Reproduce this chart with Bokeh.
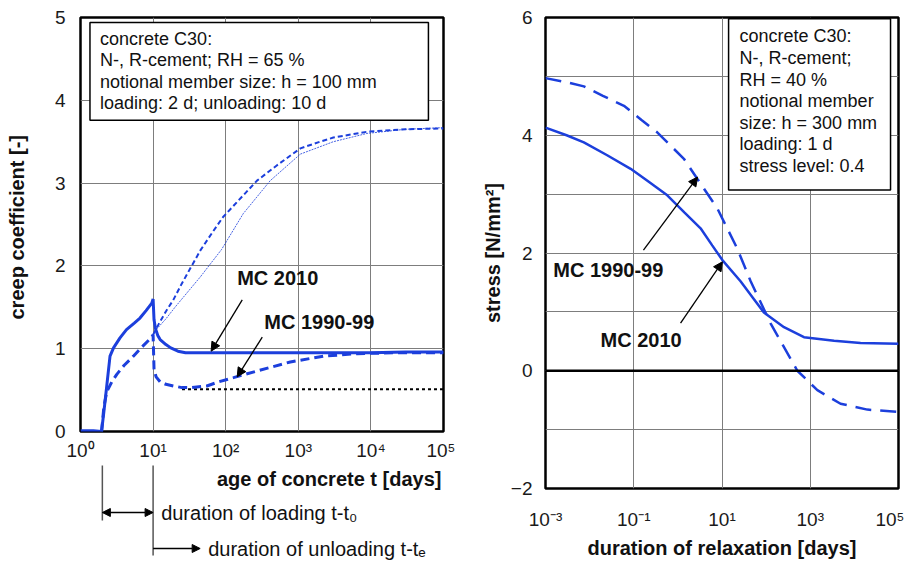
from bokeh.plotting import figure
from bokeh.layouts import row, column
from bokeh.models import Range1d, FixedTicker, Label, Arrow, NormalHead, BoxAnnotation, Span
from bokeh.embed import file_html
from bokeh.resources import INLINE

FONT = "Liberation Sans"
BLUE = "#1c3fdc"
GRID = "#7d7d7d"

# ---------------- left chart: creep coefficient ----------------
t_mc2010 = [1, 1.5, 1.95, 2.1, 2.3, 2.55, 2.85, 3.5, 4.3, 5.5, 6.6, 8, 9.6, 10, 10.3, 10.8,
            11.6, 12.5, 15, 17.5, 22, 28, 50, 100, 1000, 10000, 30000, 100000]
phi_mc2010 = [0.01, 0.01, 0.0, 0.24, 0.55, 0.91, 1.01, 1.13, 1.23, 1.31, 1.37, 1.46, 1.55, 1.6,
              1.35, 1.24, 1.16, 1.11, 1.05, 1.01, 0.97, 0.95, 0.95, 0.95, 0.95, 0.95, 0.96, 0.96]

t_mc1990 = [1.95, 2.1, 2.3, 2.7, 3.16, 4, 5.35, 7, 9.6, 10, 10.3, 11, 12.5, 15, 19, 25, 33,
            55, 80, 128, 269, 776, 2213, 6450, 20000, 100000]
phi_mc1990 = [0.0, 0.3, 0.48, 0.6, 0.69, 0.8, 0.91, 1.02, 1.14, 1.17, 0.75, 0.66, 0.6, 0.57,
              0.55, 0.53, 0.53, 0.55, 0.6, 0.65, 0.73, 0.84, 0.91, 0.94, 0.95, 0.95]

t_mc1990_sustained = [10, 12, 15, 19, 25, 33, 45, 65, 92, 150, 270, 500, 1070, 2000, 3040,
                      8850, 30000, 100000]
phi_mc1990_sustained = [1.17, 1.3, 1.45, 1.59, 1.79, 1.98, 2.19, 2.4, 2.59, 2.79, 3.03, 3.21,
                        3.42, 3.5, 3.55, 3.62, 3.65, 3.66]

t_mc2010_sustained = [10, 11, 15, 20, 29, 45, 88, 174, 411, 1066, 3040, 8850, 30000, 100000]
phi_mc2010_sustained = [1.17, 1.23, 1.36, 1.5, 1.67, 1.87, 2.2, 2.63, 3.03, 3.35, 3.5, 3.6,
                        3.65, 3.67]

t_residual = [25, 100000]
phi_residual = [0.51, 0.51]

left_xticks = [1, 10, 100, 1000, 10000, 100000]
left_xlabels = ["10⁰", "10¹", "10²", "10³", "10⁴", "10⁵"]
left_yticks = [0, 1, 2, 3, 4, 5]

t_loading = 2
t_unloading = 10

# ---------------- right chart: relaxation ----------------
t_rel_mc2010 = [0.001, 0.003, 0.0074, 0.025, 0.085, 0.2, 0.575, 1.4, 3.27, 6, 10.2, 26.3, 50,
                89, 254, 720, 3470, 13800, 100000]
s_mc2010 = [4.13, 4.0, 3.88, 3.66, 3.43, 3.23, 2.98, 2.69, 2.42, 2.13, 1.88, 1.52, 1.24, 0.99,
            0.74, 0.57, 0.51, 0.47, 0.46]

t_rel_mc1990 = [0.001, 0.003, 0.0074, 0.02, 0.06, 0.15, 0.34, 1.37, 2.75, 7.8, 22, 44.6, 127,
                254, 510, 1450, 4860, 19700, 100000]
s_mc1990 = [4.97, 4.9, 4.83, 4.67, 4.5, 4.26, 4.05, 3.6, 3.26, 2.76, 2.08, 1.52, 0.8, 0.4, 0.0,
            -0.33, -0.56, -0.66, -0.7]

right_xticks = [0.001, 0.1, 10, 1000, 100000]
right_xlabels = ["10⁻³", "10⁻¹", "10¹", "10³", "10⁵"]
right_yticks = [-2, 0, 2, 4, 6]
right_ygrid = [-2, -1, 0, 1, 2, 3, 4, 5, 6]


def style_axes(p, xticks, xlabels, yticks, xlabel, ylabel, xstand, ystand, xlstand, ylstand):
    p.xaxis.ticker = FixedTicker(ticks=xticks, minor_ticks=[])
    p.xaxis.major_label_overrides = dict(zip(xticks, xlabels))
    p.yaxis.ticker = FixedTicker(ticks=yticks, minor_ticks=[])
    if xlabel:
        p.xaxis.axis_label = xlabel
    p.yaxis.axis_label = ylabel
    for ax in (p.xaxis[0], p.yaxis[0]):
        ax.major_tick_out = 0
        ax.major_tick_in = 0
        ax.minor_tick_out = 0
        ax.minor_tick_in = 0
        ax.axis_line_color = None
        ax.major_label_text_font = FONT
        ax.major_label_text_font_size = "19px"
        ax.major_label_text_color = "#1a1a1a"
        ax.axis_label_text_font = FONT
        ax.axis_label_text_font_style = "bold"
        ax.axis_label_text_font_size = "20px"
        ax.axis_label_text_color = "#111111"
    p.xaxis.major_label_standoff = xstand
    p.yaxis.major_label_standoff = ystand
    p.xaxis.axis_label_standoff = xlstand
    p.yaxis.axis_label_standoff = ylstand
    p.xgrid.grid_line_color = GRID
    p.ygrid.grid_line_color = GRID
    p.xgrid.grid_line_width = 1
    p.ygrid.grid_line_width = 1
    p.outline_line_color = "black"
    p.outline_line_width = 2.5
    p.background_fill_color = "white"
    p.border_fill_color = "white"
    p.frame_align = False


def head(size=9):
    return NormalHead(size=size, fill_color="black", line_color="black", line_width=1)


# ---------------- left figure ----------------
p1 = figure(width=455, height=463, x_axis_type="log", x_range=Range1d(1, 1e5),
            y_range=Range1d(0, 5), output_backend="svg", toolbar_location=None,
            min_border_left=80, min_border_right=12, min_border_top=17, min_border_bottom=30)
style_axes(p1, left_xticks, left_xlabels, left_yticks, None,
           "creep coefficient  [-]", 8, 15, 4, 24)

p1.line(t_mc2010_sustained, phi_mc2010_sustained, line_color=BLUE, line_width=1,
        line_dash="2 1", line_alpha=0.8)
p1.line(t_mc1990_sustained, phi_mc1990_sustained, line_color=BLUE, line_width=2,
        line_dash="5 3")
p1.line(t_residual, phi_residual, line_color="black", line_width=2, line_dash="3 3")
p1.line(t_mc1990, phi_mc1990, line_color=BLUE, line_width=3, line_dash="9 5")
p1.line(t_mc2010, phi_mc2010, line_color=BLUE, line_width=3)

p1.add_layout(BoxAnnotation(left=1.35, right=62000, bottom=3.76, top=4.94, fill_color="white",
                            fill_alpha=1, line_color="black", line_width=1.5, line_alpha=1))
p1.add_layout(Label(x=1.86, y=4.86, text="concrete C30:\nN-, R-cement; RH = 65 %\n"
                    "notional member size: h = 100 mm\nloading: 2 d; unloading: 10 d",
                    text_font=FONT, text_font_size="18px", text_baseline="top",
                    text_align="left", text_color="#111111", text_line_height=1.07))

p1.add_layout(Label(x=144, y=1.85, text="MC 2010", text_font=FONT, text_font_size="20px",
                    text_font_style="bold", text_baseline="middle", text_color="#111111"))
p1.add_layout(Label(x=340, y=1.32, text="MC 1990-99", text_font=FONT, text_font_size="20px",
                    text_font_style="bold", text_baseline="middle", text_color="#111111"))
p1.add_layout(Arrow(end=head(), x_start=169, y_start=1.59, x_end=63, y_end=0.97,
                    line_color="black", line_width=1.3))
p1.add_layout(Arrow(end=head(), x_start=319, y_start=1.14, x_end=144, y_end=0.66,
                    line_color="black", line_width=1.3))

# ---------------- strip below the left chart: axis title and durations ----------------
p3 = figure(width=455, height=98, x_axis_type="log", x_range=p1.x_range,
            y_range=Range1d(98, 0), output_backend="svg", toolbar_location=None,
            x_axis_location=None, y_axis_location=None,
            min_border_left=80, min_border_right=12, min_border_top=0, min_border_bottom=0)
p3.xgrid.visible = False
p3.ygrid.visible = False
p3.outline_line_color = None
p3.frame_align = False

p3.add_layout(Label(x=93800, y=15, text="age of concrete t [days]", text_font=FONT,
                    text_font_size="20px", text_font_style="bold", text_align="right",
                    text_baseline="middle", text_color="#111111"))
p3.add_layout(Arrow(end=None, x_start=t_loading, y_start=2, x_end=t_loading, y_end=57,
                    line_color="#555555", line_width=1.5))
p3.add_layout(Arrow(end=None, x_start=t_unloading, y_start=2, x_end=t_unloading, y_end=92,
                    line_color="#555555", line_width=1.5))
p3.add_layout(Arrow(start=head(8), end=head(8), x_start=t_loading, y_start=49,
                    x_end=t_unloading, y_end=49, line_color="black", line_width=1.3))
p3.add_layout(Arrow(end=head(8), x_start=t_unloading, y_start=85, x_end=44.5, y_end=85,
                    line_color="black", line_width=1.3))
p3.add_layout(Label(x=12.9, y=49, text="duration of loading t-t₀", text_font=FONT,
                    text_font_size="20px", text_baseline="middle", text_color="#111111"))
p3.add_layout(Label(x=57.4, y=85, text="duration of unloading t-tₑ", text_font=FONT,
                    text_font_size="20px", text_baseline="middle", text_color="#111111"))

# ---------------- right figure ----------------
p2 = figure(width=449, height=561, x_axis_type="log", x_range=Range1d(1e-3, 1e5),
            y_range=Range1d(-2, 6), output_backend="svg", toolbar_location=None,
            min_border_left=90, min_border_right=6, min_border_top=17, min_border_bottom=72)
style_axes(p2, right_xticks, right_xlabels, right_yticks, "duration of relaxation [days]",
           "stress [N/mm²]", 20, 13, 4, 4)
p2.ygrid.ticker = FixedTicker(ticks=right_ygrid, minor_ticks=[])

p2.add_layout(Span(location=0, dimension="width", line_color="black", line_width=2.5))
p2.line(t_rel_mc1990, s_mc1990, line_color=BLUE, line_width=2.5, line_dash="16 9")
p2.line(t_rel_mc2010, s_mc2010, line_color=BLUE, line_width=2.5)

p2.add_layout(BoxAnnotation(left=14.1, right=66000, bottom=3.07, top=5.98, fill_color="white",
                            fill_alpha=1, line_color="black", line_width=1.5, line_alpha=1))
p2.add_layout(Label(x=25, y=5.85, text="concrete C30:\nN-, R-cement;\nRH = 40 %\n"
                    "notional member\nsize: h = 300 mm\nloading: 1 d\nstress level: 0.4",
                    text_font=FONT, text_font_size="18px", text_baseline="top",
                    text_align="left", text_color="#111111", text_line_height=1.08))

p2.add_layout(Label(x=0.0015, y=1.71, text="MC 1990-99", text_font=FONT, text_font_size="20px",
                    text_font_style="bold", text_baseline="middle", text_color="#111111"))
p2.add_layout(Label(x=0.0177, y=0.53, text="MC 2010", text_font=FONT, text_font_size="20px",
                    text_font_style="bold", text_baseline="middle", text_color="#111111"))
p2.add_layout(Arrow(end=head(), x_start=0.166, y_start=2.05, x_end=2.8, y_end=3.29,
                    line_color="black", line_width=1.3))
p2.add_layout(Arrow(end=head(), x_start=1.15, y_start=0.81, x_end=10.2, y_end=1.85,
                    line_color="black", line_width=1.3))

layout = row(column(p1, p3), p2)
open("out.html", "w").write(file_html(layout, INLINE))
